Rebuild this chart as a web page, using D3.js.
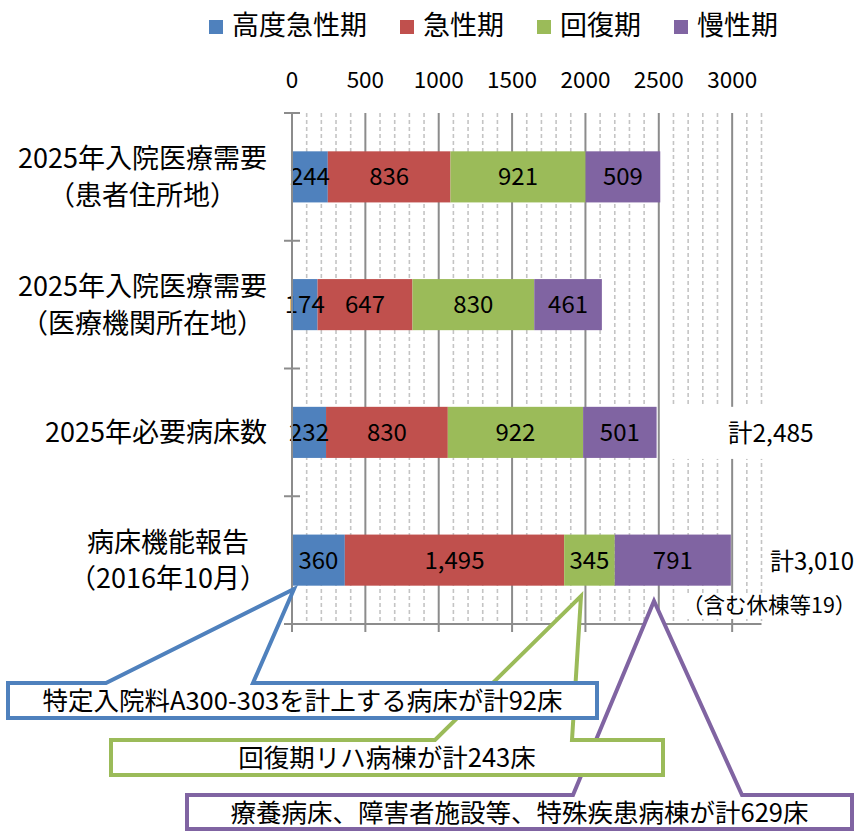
<!DOCTYPE html>
<html><head><meta charset="utf-8">
<script src="https://cdn.jsdelivr.net/npm/d3@7"></script>
<style>
body{margin:0;background:#fff}
svg{display:block}
text{font-family:"Noto Sans CJK JP","Noto Sans",sans-serif;fill:#000}
</style>
</head><body>
<svg id="chart" width="855" height="831"></svg>
<script>
// ---- data ----
const categories = ["2025年入院医療需要\n（患者住所地）", "2025年入院医療需要\n（医療機関所在地）", "2025年必要病床数", "病床機能報告\n（2016年10月）"];
const seriesNames = ["高度急性期", "急性期", "回復期", "慢性期"];
const seriesColors = ["#4F81BD", "#C0504D", "#9BBB59", "#8064A2"];
const highAcute = [244, 174, 232, 360];
const acute = [836, 647, 830, 1495];
const recovery = [921, 830, 922, 345];
const chronic = [509, 461, 501, 791];
const xTicks = [0, 500, 1000, 1500, 2000, 2500, 3000];
const totalLabels = ["", "", "計2,485", "計3,010"];
const totalNote = "（含む休棟等19）";
const calloutTexts = ["特定入院料A300-303を計上する病床が計92床", "回復期リハ病棟が計243床", "療養病床、障害者施設等、特殊疾患病棟が計629床"];

const seriesValues = [highAcute, acute, recovery, chronic];
const rows = categories.map((c, i) => {
  const r = {cat: c};
  seriesNames.forEach((s, j) => r[s] = seriesValues[j][i]);
  return r;
});

const svg = d3.select("#chart");
const x = d3.scaleLinear().domain([0, 3200]).range([292, 761.5]);
const y = d3.scaleBand().domain(categories).range([113, 624]).paddingInner(0.6).paddingOuter(0.3);
const plotTop = 113, plotBottom = 624;

// ---- gridlines ----
const minor = d3.range(100, 3201, 100).filter(v => v % 500 !== 0);
svg.append("g").selectAll("line").data(minor).join("line")
  .attr("x1", d => x(d)).attr("x2", d => x(d))
  .attr("y1", plotTop).attr("y2", plotBottom)
  .attr("stroke", "#c4c4c4").attr("stroke-width", 1.6).attr("stroke-dasharray", "4,3");
svg.append("g").selectAll("line").data(xTicks.filter(v => v > 0)).join("line")
  .attr("x1", d => x(d)).attr("x2", d => x(d))
  .attr("y1", plotTop).attr("y2", plotBottom)
  .attr("stroke", "#8c8c8c").attr("stroke-width", 2);

// ---- bars ----
const stack = d3.stack().keys(seriesNames)(rows);
const fmt = d3.format(",");
const layers = svg.append("g").selectAll("g").data(stack).join("g")
  .attr("fill", (d, i) => seriesColors[i]);
layers.selectAll("rect").data(d => d).join("rect")
  .attr("x", d => x(d[0])).attr("width", d => x(d[1]) - x(d[0]))
  .attr("y", d => y(d.data.cat)).attr("height", y.bandwidth());
const labelLayers = svg.append("g").selectAll("g").data(stack).join("g");
labelLayers.selectAll("text").data(d => d).join("text")
  .attr("x", d => (x(d[0]) + x(d[1])) / 2)
  .attr("y", d => y(d.data.cat) + y.bandwidth() / 2 + 8.5)
  .attr("text-anchor", "middle").attr("font-size", 24)
  .text(d => fmt(d[1] - d[0]));

// ---- axes ----
const axisColor = "#8c8c8c";
svg.append("line").attr("x1", x(0)).attr("x2", x(0)).attr("y1", plotTop).attr("y2", plotBottom)
  .attr("stroke", axisColor).attr("stroke-width", 2);
const catBounds = categories.map(c => y(c) - y.step() * y.paddingInner() / 2);
catBounds[0] = plotTop;
catBounds.push(plotBottom);
svg.append("g").selectAll("line").data(catBounds).join("line")
  .attr("x1", 284).attr("x2", 300).attr("y1", d => d).attr("y2", d => d)
  .attr("stroke", axisColor).attr("stroke-width", 2);
svg.append("line").attr("x1", x(0)).attr("x2", x(3200)).attr("y1", plotBottom).attr("y2", plotBottom)
  .attr("stroke", axisColor).attr("stroke-width", 2);
svg.append("g").selectAll("line").data(xTicks).join("line")
  .attr("x1", d => x(d)).attr("x2", d => x(d)).attr("y1", plotBottom).attr("y2", plotBottom + 8)
  .attr("stroke", axisColor).attr("stroke-width", 2);
svg.append("g").selectAll("text").data(xTicks).join("text")
  .attr("x", d => x(d)).attr("y", 88).attr("text-anchor", "middle").attr("font-size", 22.5)
  .text(d => d);

// ---- category labels ----
const catG = svg.append("g");
categories.forEach(c => {
  const lines = c.split("\n");
  const cy = y(c) + y.bandwidth() / 2;
  const g = catG.append("g");
  const texts = lines.map((l, i) => g.append("text").attr("font-size", 27)
    .attr("text-anchor", "middle")
    .attr("y", lines.length === 1 ? cy + 10 : cy + (i === 0 ? -8.5 : 28))
    .text(l));
  const w = d3.max(texts, t => t.node().getComputedTextLength());
  texts.forEach(t => t.attr("x", 267 - w / 2));
});

// ---- totals ----
svg.append("rect").attr("x", 664).attr("y", y(categories[2])).attr("width", 186).attr("height", y.bandwidth() + 1).attr("fill", "#fff");
svg.append("text").attr("x", 728).attr("y", y(categories[2]) + y.bandwidth() / 2 + 9.5).attr("font-size", 24.5).text(totalLabels[2]);
svg.append("text").attr("x", 770).attr("y", y(categories[3]) + y.bandwidth() / 2 + 9.5).attr("font-size", 24).text(totalLabels[3]);
svg.append("rect").attr("x", 683).attr("y", 593).attr("width", 170).attr("height", 26).attr("fill", "#fff");
svg.append("text").attr("x", 682).attr("y", 613).attr("font-size", 21.5).text(totalNote);

// ---- legend ----
let lx = 209;
const lg = svg.append("g");
seriesNames.forEach((s, i) => {
  lg.append("rect").attr("x", lx).attr("y", 20).attr("width", 14).attr("height", 14).attr("fill", seriesColors[i]);
  const t = lg.append("text").attr("x", lx + 23).attr("y", 35).attr("font-size", 27).text(s);
  lx += 23 + t.node().getComputedTextLength() + 33;
});

// ---- callouts ----
const callouts = [
  {text: calloutTexts[2], color: "#8064A2", box: [187, 795, 852, 829], feet: [573, 742], apex: [654, 601]},
  {text: calloutTexts[1], color: "#9BBB59", box: [111, 740, 663, 775], feet: [435, 572], apex: [581, 596]},
  {text: calloutTexts[0], color: "#4F81BD", box: [8, 683, 597, 718], feet: [106, 253], apex: [294, 589]}
];
callouts.forEach(c => {
  const [x0, y0, x1, y1] = c.box;
  const p = d3.path();
  p.moveTo(x0, y0); p.lineTo(c.feet[0], y0); p.lineTo(c.apex[0], c.apex[1]);
  p.lineTo(c.feet[1], y0); p.lineTo(x1, y0); p.lineTo(x1, y1); p.lineTo(x0, y1); p.closePath();
  svg.append("path").attr("d", p.toString()).attr("fill", "#fff")
    .attr("stroke", c.color).attr("stroke-width", 4).attr("stroke-linejoin", "miter");
  svg.append("text").attr("x", (x0 + x1) / 2).attr("y", (y0 + y1) / 2 + 9.5)
    .attr("text-anchor", "middle").attr("font-size", 25.5).text(c.text);
});
</script>
</body></html>
